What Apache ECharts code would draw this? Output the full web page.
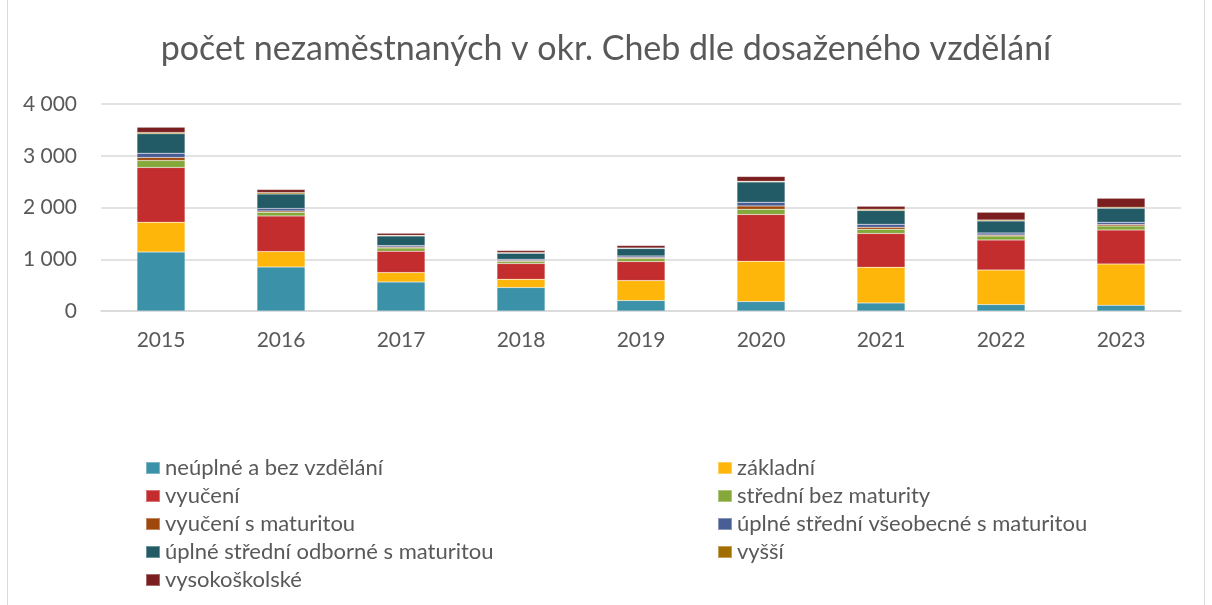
<!DOCTYPE html>
<html>
<head>
<meta charset="utf-8">
<script src="https://cdn.jsdelivr.net/npm/echarts@6/dist/echarts.min.js"></script>
<style>
    html, body { margin: 0; padding: 0; background: #fff; }
    #frame { position: absolute; left: 7px; top: -2px; width: 1198px; height: 609px; border: 1px solid #d9d9d9; box-sizing: border-box; }
    #chart { position: absolute; left: 0; top: 0; width: 1212px; height: 605px; }
</style>
</head>
<body>
<div id="frame"></div>
<div id="chart"></div>
<script>
const years = ['2015', '2016', '2017', '2018', '2019', '2020', '2021', '2022', '2023'];
const seriesNames = [
    'neúplné a bez vzdělání', 'základní', 'vyučení', 'střední bez maturity', 'vyučení s maturitou',
    'úplné střední všeobecné s maturitou', 'úplné střední odborné s maturitou', 'vyšší', 'vysokoškolské'
];
const neuplne = [1141, 851, 561, 453, 201, 182, 155, 124, 110];
const zakladni = [575, 298, 182, 160, 387, 779, 690, 669, 799];
const vyuceni = [1058, 689, 412, 304, 367, 904, 652, 580, 658];
const stredniBez = [135, 71, 64, 38, 58, 102, 83, 78, 77];
const vyuceniMat = [58, 25, 19, 20, 20, 64, 39, 19, 27];
const vseobecne = [83, 47, 27, 25, 31, 72, 58, 39, 45];
const odborne = [374, 282, 186, 116, 143, 392, 265, 232, 270];
const vyssi = [27, 27, 13, 14, 12, 14, 25, 19, 20];
const vysokoskolske = [102, 58, 39, 38, 46, 91, 58, 149, 174];
const yTicks = [0, 1000, 2000, 3000, 4000];

const allData = [neuplne, zakladni, vyuceni, stredniBez, vyuceniMat, vseobecne, odborne, vyssi, vysokoskolske];
const colors = ['#3A91A8', '#FFB60A', '#C32D2E', '#85A83A', '#9E480E', '#4A5E96', '#225A66', '#A06F00', '#7A1E1F'];
const font = 'Lato, "Open Sans", sans-serif';

var myChart = echarts.init(document.getElementById('chart'));
const legendStyle = {
    orient: 'vertical',
    top: 452,
    itemWidth: 14,
    itemHeight: 12,
    itemGap: 6,
    icon: 'rect',
    textStyle: { color: '#595959', fontSize: 22, fontFamily: font }
};
var option = {
    color: colors,
    animation: false,
    title: {
        text: 'počet nezaměstnaných v okr. Cheb dle dosaženého vzdělání',
        left: 'center',
        top: 27,
        textStyle: { color: '#595959', fontSize: 34, fontWeight: 'normal', fontFamily: font }
    },
    legend: [
        Object.assign({ left: 140, data: [seriesNames[0], seriesNames[2], seriesNames[4], seriesNames[6], seriesNames[8]] }, legendStyle),
        Object.assign({ left: 712, data: [seriesNames[1], seriesNames[3], seriesNames[5], seriesNames[7]] }, legendStyle)
    ],
    grid: { left: 101, right: 31, top: 104, height: 207, containLabel: false },
    xAxis: {
        type: 'category',
        data: years,
        axisTick: { show: false },
        axisLine: { lineStyle: { color: '#d9d9d9', width: 1.5 } },
        axisLabel: { color: '#595959', fontSize: 21, fontFamily: font, margin: 19 }
    },
    yAxis: {
        type: 'value',
        min: yTicks[0],
        max: yTicks[yTicks.length - 1],
        interval: 1000,
        axisLine: { show: false },
        axisTick: { show: false },
        splitLine: { lineStyle: { color: '#d9d9d9', width: 1.5 } },
        axisLabel: {
            color: '#595959', fontSize: 21, fontFamily: font, margin: 24,
            formatter: function (v) { return v >= 1000 ? Math.floor(v / 1000) + ' ' + String(v % 1000).padStart(3, '0') : String(v); }
        }
    },
    series: allData.map(function (d, i) {
        return {
            name: seriesNames[i],
            type: 'bar',
            stack: 'total',
            data: d,
            barWidth: '40%',
            itemStyle: { borderColor: 'rgba(255,255,255,0.35)', borderWidth: 0.5 }
        };
    })
};
option && myChart.setOption(option);
</script>
</body>
</html>
